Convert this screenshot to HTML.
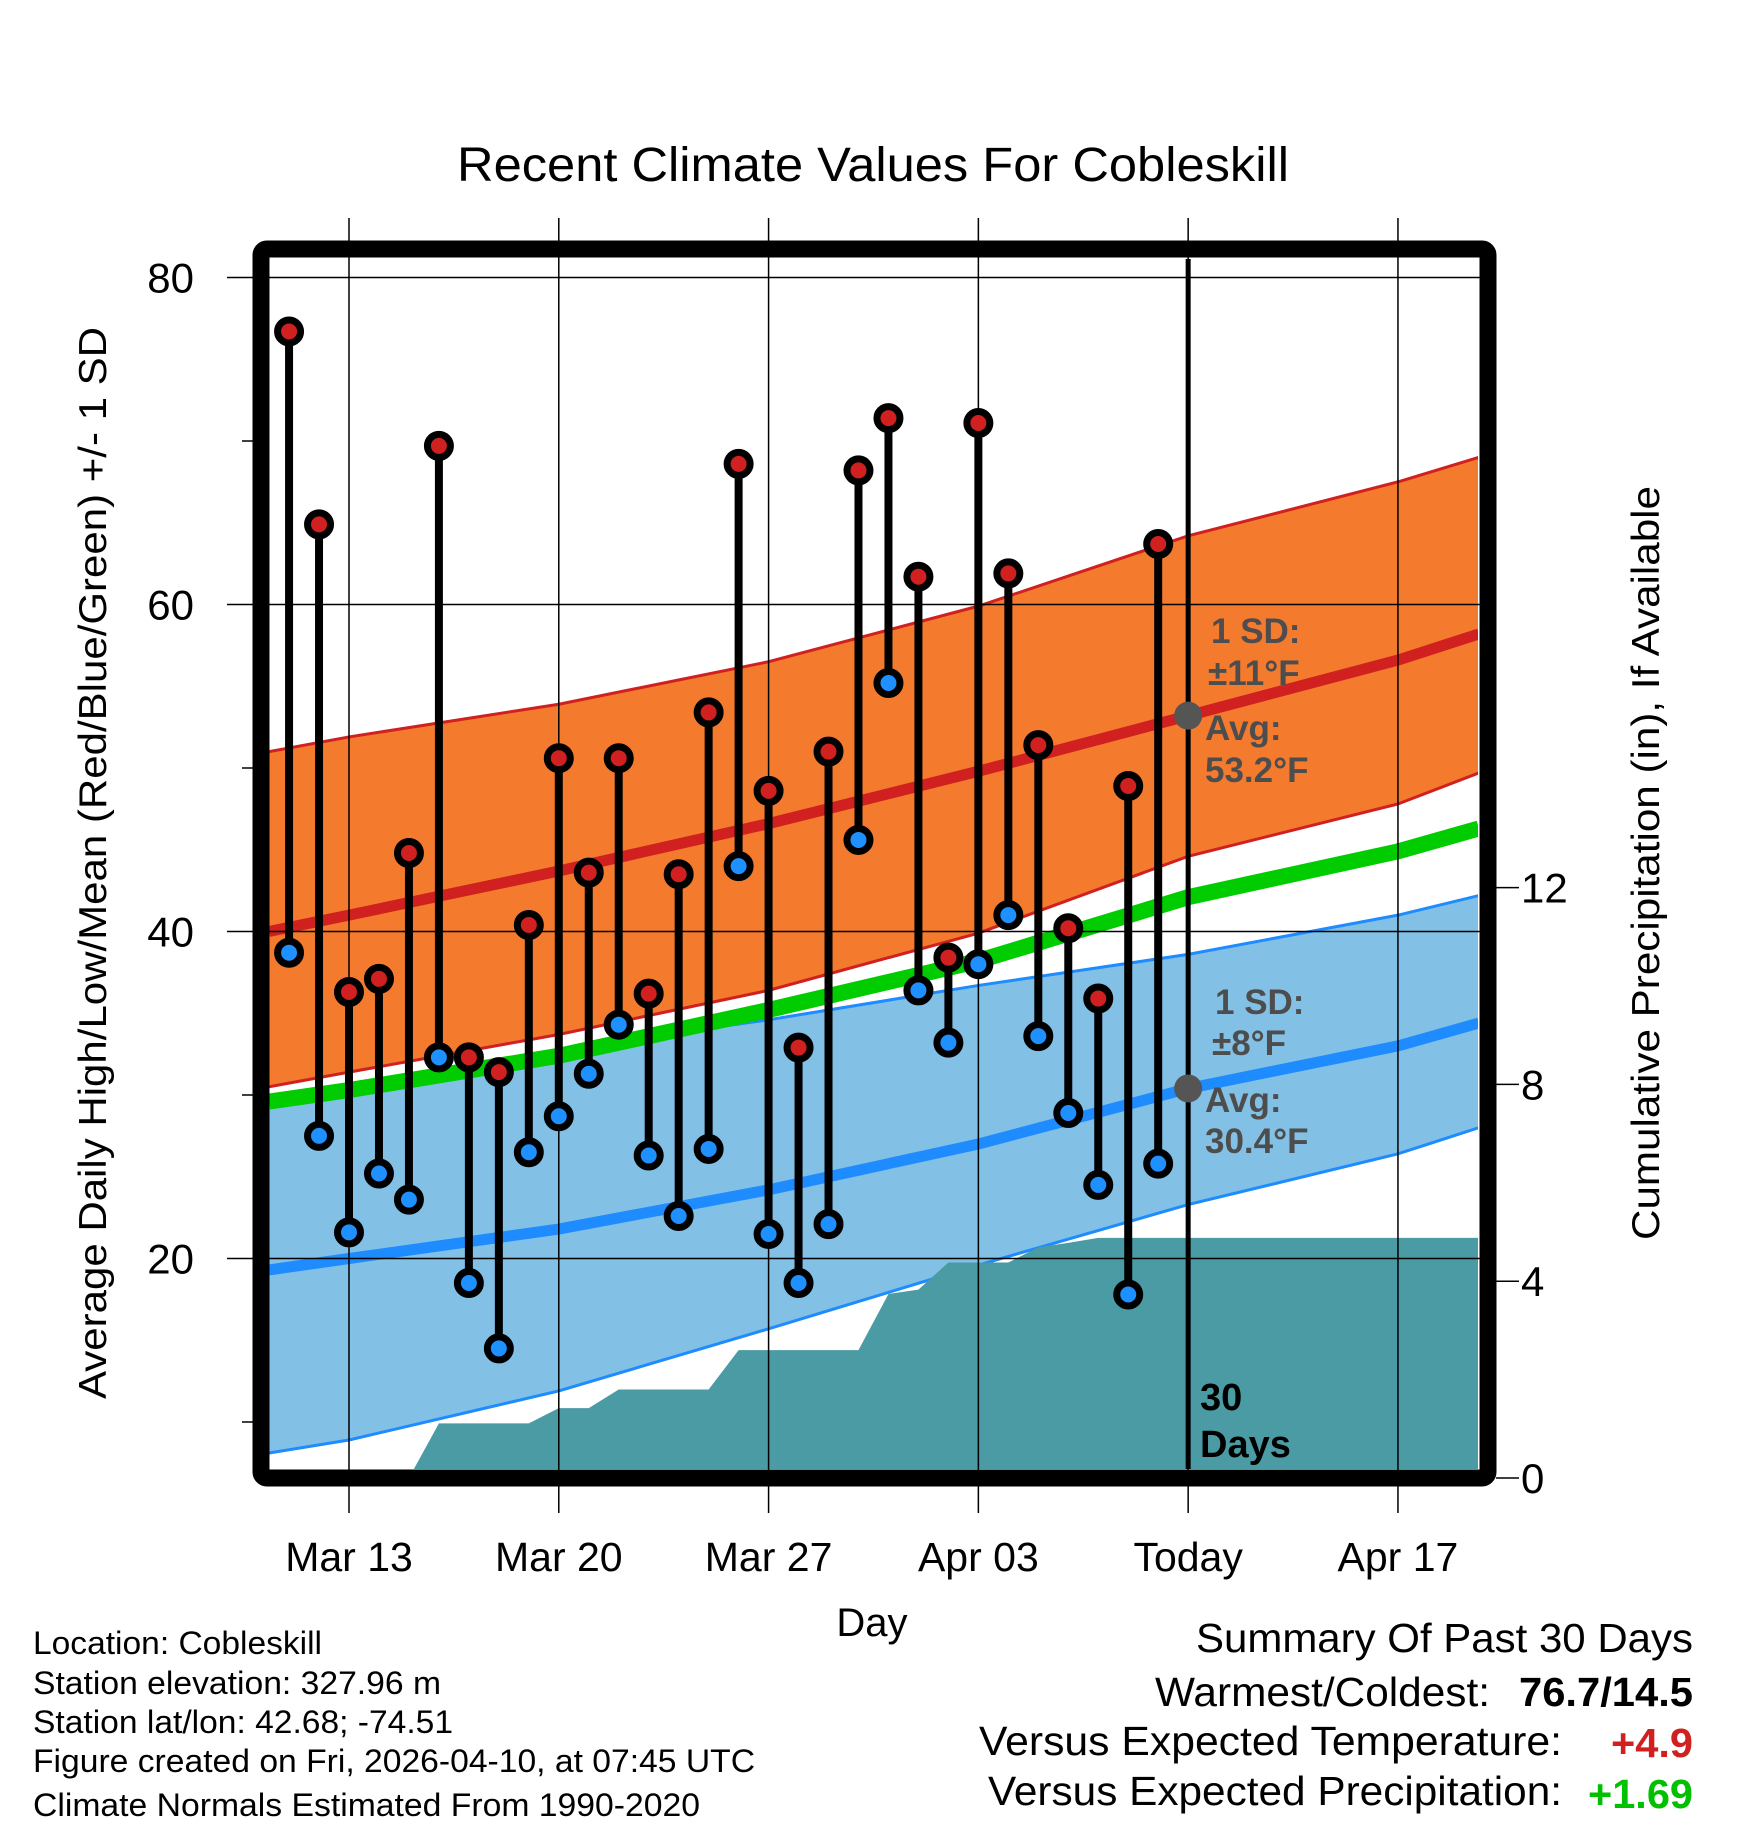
<!DOCTYPE html>
<html><head><meta charset="utf-8">
<style>
html,body{margin:0;padding:0;background:#fff;}
svg{display:block;font-family:"Liberation Sans",sans-serif;}
</style></head>
<body>
<svg id="chart" width="1748" height="1828" viewBox="0 0 1748 1828" xmlns="http://www.w3.org/2000/svg">
<g id="layers"></g>
</svg>
<script>
// ---- data ----
const dayLabels = ["Mar 11","Mar 12","Mar 13","Mar 14","Mar 15","Mar 16","Mar 17","Mar 18","Mar 19","Mar 20","Mar 21","Mar 22","Mar 23","Mar 24","Mar 25","Mar 26","Mar 27","Mar 28","Mar 29","Mar 30","Mar 31","Apr 01","Apr 02","Apr 03","Apr 04","Apr 05","Apr 06","Apr 07","Apr 08","Apr 09"];
const dayIndex = [-2,-1,0,1,2,3,4,5,6,7,8,9,10,11,12,13,14,15,16,17,18,19,20,21,22,23,24,25,26,27];
const highs = [76.7,64.9,36.3,37.1,44.8,69.7,32.3,31.4,40.4,50.6,43.6,50.6,36.2,43.5,53.4,68.6,48.6,32.9,51.0,68.2,71.4,61.7,38.4,71.1,61.9,51.4,40.2,35.9,48.9,63.7];
const lows = [38.7,27.5,21.6,25.2,23.6,32.3,18.5,14.5,26.5,28.7,31.3,34.3,26.3,22.6,26.7,44.0,21.5,18.5,22.1,45.6,55.2,36.4,33.2,38.0,41.0,33.6,28.9,24.5,17.8,25.8];
const precipCum = [0,0,0,0,0,1.11,1.11,1.11,1.11,1.42,1.42,1.80,1.80,1.80,1.80,2.60,2.60,2.60,2.60,2.60,3.74,3.83,4.38,4.38,4.38,4.69,4.78,4.88,4.88,4.88];
const normDays = [-2.67,0,7,14,21,28,35,37.7];
const highAvg = [40.0,41.0,43.7,46.6,49.8,53.2,56.6,58.2];
const highUpper = [51.0,51.9,53.9,56.5,59.9,64.2,67.5,69.0];
const highLower = [30.5,31.4,33.7,36.4,39.9,44.6,47.8,49.7];
const meanNorm = [29.6,30.3,32.4,35.2,38.2,42.1,44.9,46.3];
const lowAvg = [19.3,20.0,21.8,24.2,27.0,30.4,33.0,34.4];
const lowUpper = [29.4,30.0,32.8,34.6,36.7,38.6,41.0,42.2];
const lowLower = [8.1,8.9,11.9,15.7,19.6,23.3,26.4,28.0];
const xTickDays = [0,7,14,21,28,35];
const xTickLabels = ["Mar 13","Mar 20","Mar 27","Apr 03","Today","Apr 17"];
const yTicks = [20,40,60,80];
const yMinor = [10,30,50,70];
const pTicks = [0,4,8,12];

// ---- axes ----
const X = d => 349 + d*29.97;
const Y = v => 277.5 + (80 - v)*16.35;
const P = p => 1478 - p*49.2;
const L = 269, R = 1478, T = 259, B = 1469;
const NS = "http://www.w3.org/2000/svg";
const root = document.getElementById('layers');
function mk(tag, attrs, parent){
  const e = document.createElementNS(NS, tag);
  for (const k in attrs) e.setAttribute(k, attrs[k]);
  (parent||root).appendChild(e);
  return e;
}
const defs = mk('defs',{});
const cp = mk('clipPath',{id:'plotclip'},defs);
mk('rect',{x:L,y:T,width:R-L,height:B-T},cp);
const plot = mk('g',{'clip-path':'url(#plotclip)'});



function pts(arrA){ return normDays.map((d,i)=>X(d)+','+Y(arrA[i])).join(' '); }
function band(up, lo, fill, edge, name){
  const p = normDays.map((d,i)=>X(d)+','+Y(up[i])).concat(normDays.slice().reverse().map((d,j)=>{const i=normDays.length-1-j;return X(d)+','+Y(lo[i]);})).join(' ');
  const poly = mk('polygon',{points:p,fill:fill},plot);
  
  
  const e1 = mk('polyline',{points:pts(up),fill:'none',stroke:edge,'stroke-width':3},plot);
  
  
  const e2 = mk('polyline',{points:pts(lo),fill:'none',stroke:edge,'stroke-width':3},plot);
  
  
}
band(lowUpper, lowLower, '#82c0e6', '#1e8cff', 'low-sd-band');
band(highUpper, highLower, '#f47a2e', '#d02020', 'high-sd-band');
let ln = mk('polyline',{points:pts(meanNorm),fill:'none',stroke:'#00cc00','stroke-width':16},plot);


ln = mk('polyline',{points:pts(highAvg),fill:'none',stroke:'#d02020','stroke-width':11},plot);


ln = mk('polyline',{points:pts(lowAvg),fill:'none',stroke:'#1e8cff','stroke-width':11},plot);



yTicks.forEach(v=>{
  const g = mk('line',{x1:227,x2:1496,y1:Y(v),y2:Y(v),stroke:'#000','stroke-width':1.5});
  
  
});
yMinor.forEach(v=>{
  const g = mk('line',{x1:242,x2:262,y1:Y(v),y2:Y(v),stroke:'#000','stroke-width':1.5});
  
  
});
xTickDays.forEach((d,i)=>{
  const g = mk('line',{x1:X(d),x2:X(d),y1:218,y2:1513,stroke:'#000','stroke-width':1.5});
  
  
});

{
  let d = 'M'+X(dayIndex[0])+','+P(0);
  dayIndex.forEach((di,i)=>{ d += ' L'+X(di)+','+P(precipCum[i]); });
  d += ' L'+(R+10)+','+P(precipCum[precipCum.length-1])+' L'+(R+10)+','+P(0)+' Z';
  const a = mk('path',{d:d,fill:'#4a9ba4'},plot);
  
  
}

{
  const t = mk('line',{x1:X(28),x2:X(28),y1:T,y2:B,stroke:'#000','stroke-width':5});
  
  
}

dayIndex.forEach((di,i)=>{
  const x = X(di);
  const s = mk('line',{x1:x,x2:x,y1:Y(highs[i]),y2:Y(lows[i]),stroke:'#000','stroke-width':8});
  
  
  const h = mk('circle',{cx:x,cy:Y(highs[i]),r:11.5,fill:'#d02020',stroke:'#000','stroke-width':7});
  
  
  const l = mk('circle',{cx:x,cy:Y(lows[i]),r:11.5,fill:'#1e90ff',stroke:'#000','stroke-width':7});
  
  
});

[[53.2,'high-avg-dot'],[30.4,'low-avg-dot']].forEach(a=>{
  const c = mk('circle',{cx:X(28),cy:Y(a[0]),r:14,fill:'#555'});
  
  
});

{
  const f = mk('rect',{x:261,y:249,width:1227,height:1229,rx:6,fill:'none',stroke:'#000','stroke-width':17});
  
  
}
pTicks.forEach(p=>{
  const t = mk('line',{x1:1496,x2:1519,y1:P(p),y2:P(p),stroke:'#000','stroke-width':1.5});
  
  
  const tx = mk('text',{x:1521,y:P(p)+15,'font-size':42});
  tx.textContent = p;
  
  
});
yTicks.forEach(v=>{
  const tx = mk('text',{x:194,y:Y(v)+15,'font-size':42,'text-anchor':'end'});
  tx.textContent = v;
  
  
});
xTickDays.forEach((d,i)=>{
  const tx = mk('text',{x:X(d),y:1571,'font-size':41,'text-anchor':'middle'});
  tx.textContent = xTickLabels[i];
  
  
});
</script>
<svg style="position:absolute;left:0;top:0" width="1748" height="1828" xmlns="http://www.w3.org/2000/svg" font-family="Liberation Sans, sans-serif">
<text x="873" y="181" font-size="48" text-anchor="middle" textLength="832" lengthAdjust="spacingAndGlyphs">Recent Climate Values For Cobleskill</text>
<text transform="translate(106,863) rotate(-90)" font-size="39" text-anchor="middle" textLength="1072" lengthAdjust="spacingAndGlyphs">Average Daily High/Low/Mean (Red/Blue/Green) +/- 1 SD</text>
<text transform="translate(1659,863) rotate(-90)" font-size="39" text-anchor="middle" textLength="754" lengthAdjust="spacingAndGlyphs">Cumulative Precipitation (in), If Available</text>
<text x="872" y="1636" font-size="40" text-anchor="middle">Day</text>
<g font-size="35" font-weight="bold" fill="#4d4d4d">
<text x="1211" y="643">1 SD:</text>
<text x="1208" y="685">±11°F</text>
<text x="1205" y="740">Avg:</text>
<text x="1205" y="782">53.2°F</text>
</g>
<g font-size="35" font-weight="bold" fill="#4d4d4d">
<text x="1215" y="1014">1 SD:</text>
<text x="1212" y="1055">±8°F</text>
<text x="1205" y="1112">Avg:</text>
<text x="1205" y="1153">30.4°F</text>
</g>
<g font-size="38" font-weight="bold" fill="#000">
<text x="1200" y="1410">30</text>
<text x="1200" y="1457">Days</text>
</g>
<g font-size="32" fill="#000">
<text x="33" y="1654" textLength="289" lengthAdjust="spacingAndGlyphs">Location: Cobleskill</text>
<text x="33" y="1694" textLength="408" lengthAdjust="spacingAndGlyphs">Station elevation: 327.96 m</text>
<text x="33" y="1733" textLength="420" lengthAdjust="spacingAndGlyphs">Station lat/lon: 42.68; -74.51</text>
<text x="33" y="1772" textLength="722" lengthAdjust="spacingAndGlyphs">Figure created on Fri, 2026-04-10, at 07:45 UTC</text>
<text x="33" y="1816" textLength="667" lengthAdjust="spacingAndGlyphs">Climate Normals Estimated From 1990-2020</text>
</g>
<g font-size="41" fill="#000">
<text x="1196" y="1652" textLength="497" lengthAdjust="spacingAndGlyphs">Summary Of Past 30 Days</text>
<text x="1155" y="1706" textLength="335" lengthAdjust="spacingAndGlyphs">Warmest/Coldest:</text>
<text x="1519" y="1706" font-weight="bold" textLength="174" lengthAdjust="spacingAndGlyphs">76.7/14.5</text>
<text x="979" y="1755" textLength="583" lengthAdjust="spacingAndGlyphs">Versus Expected Temperature:</text>
<text x="1611" y="1757" font-weight="bold" fill="#d02020" textLength="82" lengthAdjust="spacingAndGlyphs">+4.9</text>
<text x="988" y="1805" textLength="574" lengthAdjust="spacingAndGlyphs">Versus Expected Precipitation:</text>
<text x="1588" y="1808" font-weight="bold" fill="#00c000" textLength="105" lengthAdjust="spacingAndGlyphs">+1.69</text>
</g>
</svg>
</body></html>
